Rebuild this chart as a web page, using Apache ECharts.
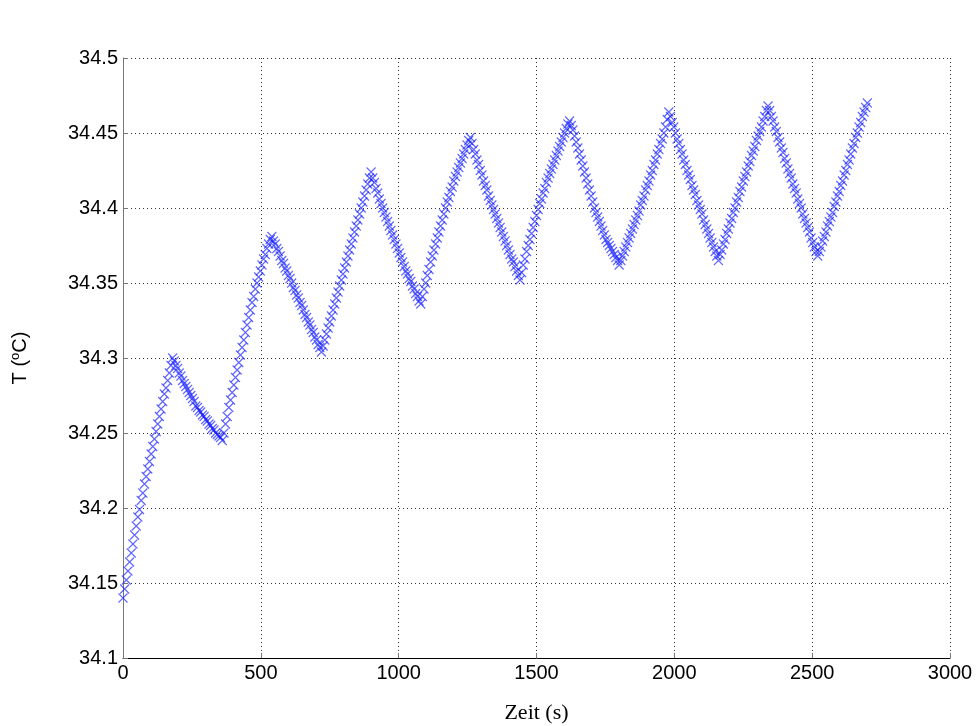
<!DOCTYPE html>
<html>
<head>
<meta charset="utf-8">
<script src="https://cdn.jsdelivr.net/npm/echarts@6/dist/echarts.min.js"></script>
<style>
html,body{margin:0;padding:0;background:#fff;}
#chart{width:978px;height:726px;}
</style>
</head>
<body>
<div id="chart"></div>
<script>
// Sampling interval of the measurement (s)
var sampleStep = 6;

// Temperature readings (°C), one every 6 s, grouped by heating/cooling half-cycle
var startValue = [34.140];
var seg01 = [34.146,34.152,34.158,34.164,34.170,34.176,34.182,34.188,34.194,34.199,34.205,34.210,34.216,34.221,34.226,34.231,34.236,34.241,34.246,34.251,34.256,34.261,34.266,34.271,34.276,34.280,34.285,34.290,34.295,34.300];
var seg02 = [34.298,34.295,34.293,34.290,34.288,34.285,34.283,34.281,34.279,34.277,34.275,34.273,34.271,34.268,34.267,34.265,34.264,34.262,34.261,34.259,34.258,34.256,34.255,34.253,34.252,34.250,34.249,34.248,34.247,34.245];
var seg03 = [34.250,34.256,34.261,34.267,34.272,34.277,34.282,34.287,34.292,34.297,34.302,34.307,34.312,34.317,34.322,34.327,34.332,34.337,34.341,34.346,34.350,34.354,34.358,34.362,34.366,34.369,34.373,34.376,34.379,34.381];
var seg04 = [34.378,34.376,34.373,34.371,34.368,34.365,34.363,34.360,34.358,34.355,34.353,34.350,34.347,34.345,34.342,34.340,34.337,34.335,34.332,34.329,34.327,34.324,34.322,34.319,34.317,34.314,34.312,34.309,34.307,34.304];
var seg05 = [34.308,34.312,34.316,34.320,34.324,34.328,34.332,34.336,34.340,34.344,34.348,34.352,34.356,34.360,34.364,34.368,34.372,34.376,34.380,34.384,34.388,34.392,34.396,34.400,34.404,34.408,34.412,34.416,34.420,34.424];
var seg06 = [34.420,34.417,34.413,34.410,34.406,34.403,34.400,34.397,34.394,34.391,34.388,34.385,34.382,34.379,34.376,34.373,34.370,34.367,34.364,34.361,34.358,34.356,34.353,34.351,34.348,34.346,34.343,34.341,34.338,34.336];
var seg07 = [34.341,34.346,34.350,34.355,34.359,34.364,34.368,34.372,34.376,34.380,34.384,34.388,34.392,34.396,34.400,34.404,34.407,34.411,34.414,34.418,34.421,34.424,34.427,34.430,34.433,34.436,34.439,34.442,34.445,34.447];
var seg08 = [34.443,34.439,34.436,34.432,34.429,34.425,34.422,34.418,34.415,34.412,34.408,34.405,34.402,34.399,34.396,34.393,34.390,34.387,34.384,34.381,34.378,34.375,34.372,34.369,34.366,34.364,34.361,34.358,34.355,34.352];
var seg09 = [34.357,34.362,34.366,34.371,34.375,34.379,34.383,34.387,34.391,34.395,34.399,34.403,34.406,34.410,34.413,34.417,34.420,34.423,34.426,34.429,34.432,34.435,34.438,34.441,34.444,34.447,34.450,34.453,34.456,34.458];
var seg10 = [34.455,34.452,34.448,34.444,34.440,34.436,34.432,34.428,34.424,34.420,34.416,34.412,34.408,34.404,34.400,34.397,34.394,34.391,34.388,34.385,34.382,34.379,34.377,34.375,34.373,34.371,34.369,34.367,34.365,34.362];
var seg11 = [34.365,34.368,34.371,34.374,34.377,34.380,34.383,34.386,34.389,34.392,34.395,34.398,34.402,34.405,34.408,34.412,34.415,34.418,34.422,34.425,34.429,34.432,34.436,34.439,34.443,34.446,34.450,34.454,34.459,34.464];
var seg12 = [34.461,34.457,34.454,34.450,34.446,34.443,34.439,34.436,34.432,34.429,34.425,34.422,34.419,34.415,34.412,34.409,34.405,34.402,34.399,34.396,34.392,34.389,34.386,34.383,34.380,34.377,34.374,34.371,34.368,34.365];
var seg13 = [34.369,34.372,34.376,34.379,34.383,34.386,34.390,34.393,34.397,34.400,34.404,34.407,34.411,34.414,34.418,34.421,34.424,34.428,34.431,34.435,34.438,34.441,34.445,34.448,34.451,34.454,34.458,34.461,34.465,34.468];
var seg14 = [34.465,34.461,34.458,34.454,34.451,34.447,34.444,34.440,34.437,34.433,34.430,34.426,34.423,34.420,34.416,34.413,34.410,34.406,34.403,34.400,34.396,34.393,34.390,34.387,34.384,34.380,34.377,34.374,34.371,34.368];
var seg15 = [34.371,34.374,34.378,34.381,34.384,34.388,34.391,34.394,34.397,34.401,34.404,34.408,34.411,34.415,34.418,34.422,34.425,34.429,34.432,34.436,34.440,34.443,34.447,34.450,34.454,34.457,34.461,34.464,34.467,34.470];

var xTicks = [0,500,1000,1500,2000,2500,3000];
var yTicks = [34.1,34.15,34.2,34.25,34.3,34.35,34.4,34.45,34.5];
var xAxisTitle = 'Zeit (s)';
var yAxisTitle = '{a|T (}{sup|o}{a|C)}';

var temps = [].concat(startValue, seg01, seg02, seg03, seg04, seg05, seg06, seg07, seg08, seg09, seg10, seg11, seg12, seg13, seg14, seg15);
var points = temps.map(function (v, i) { return [i * sampleStep, v]; });

var chart = echarts.init(document.getElementById('chart'), null, {renderer: 'canvas'});
var labelFont = {fontFamily: '"Liberation Sans", Arial, sans-serif', fontSize: 20, color: '#000'};
chart.setOption({
  backgroundColor: '#fff',
  animation: false,
  grid: {left: 123, right: 28, top: 58, bottom: 68, containLabel: false, outerBoundsMode: 'none'},
  xAxis: {
    type: 'value',
    min: xTicks[0], max: xTicks[xTicks.length - 1], interval: 500,
    name: xAxisTitle, nameLocation: 'middle', nameGap: 44,
    nameTextStyle: {fontFamily: '"Liberation Serif", "Times New Roman", serif', fontSize: 22, color: '#000'},
    axisLine: {show: true, onZero: false, lineStyle: {color: '#000', width: 1}},
    axisTick: {show: true, inside: true, length: 5, lineStyle: {color: '#777'}},
    axisLabel: Object.assign({margin: 5, formatter: function (v) { return String(v); }}, labelFont),
    splitLine: {show: true, lineStyle: {type: [1, 3], color: '#333', width: 1}}
  },
  yAxis: {
    type: 'value',
    min: yTicks[0], max: yTicks[yTicks.length - 1], interval: 0.05,
    name: yAxisTitle, nameLocation: 'middle', nameGap: 92, nameRotate: 90,
    nameTextStyle: {
      rich: {
        a: {fontFamily: '"Liberation Sans", Arial, sans-serif', fontSize: 20, color: '#000'},
        sup: {fontFamily: '"Liberation Sans", Arial, sans-serif', fontSize: 13, color: '#000', padding: [0, 0, 9, 0]}
      }
    },
    axisLine: {show: true, onZero: false, lineStyle: {color: '#777', width: 1}},
    axisTick: {show: true, inside: true, length: 5, lineStyle: {color: '#777'}},
    axisLabel: Object.assign({margin: 5, formatter: function (v) { return String(parseFloat(v.toFixed(2))); }}, labelFont),
    splitLine: {show: true, lineStyle: {type: [1, 3], color: '#333', width: 1}}
  },
  series: [{
    type: 'scatter',
    data: points,
    symbol: 'path://M0,0L10,10M10,0L0,10',
    symbolSize: 9,
    itemStyle: {color: 'transparent', borderColor: 'rgba(20,30,255,0.85)', borderWidth: 1.1},
    emphasis: {disabled: true}
  }]
});
</script>
</body>
</html>
